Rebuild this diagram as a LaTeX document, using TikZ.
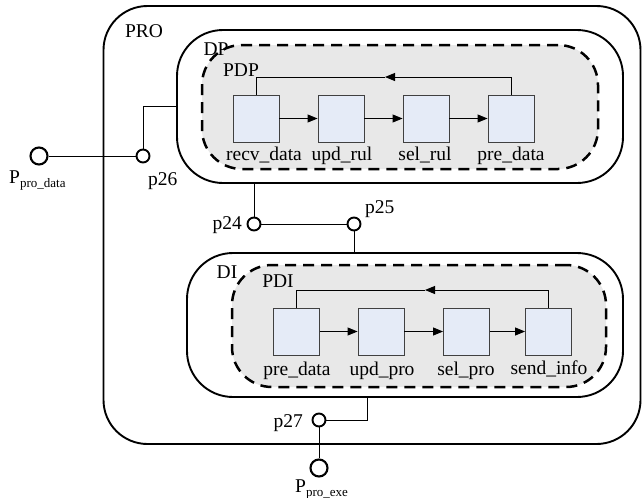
\documentclass[tikz,border=0pt]{standalone}
\usepackage{fontspec}
\setmainfont{Liberation Serif}
\usetikzlibrary{arrows.meta}
\definecolor{regiongray}{HTML}{E8E8E8}
\definecolor{boxblue}{HTML}{E5EBF7}
\definecolor{boxedge}{HTML}{404040}
\newcommand{\subtxt}[1]{\raisebox{-4pt}{\fontsize{13}{14}\selectfont #1}}
\begin{document}
\begin{tikzpicture}[x=1pt,y=-1pt,
  font=\fontsize{19.5}{21}\selectfont,
  outerbox/.style={draw, line width=1.9pt, rounded corners=44pt, inner sep=0pt},
  dashregion/.style={draw, line width=2.5pt, dash pattern=on 11pt off 7pt, fill=regiongray, rounded corners=40pt, inner sep=0pt},
  procbox/.style={draw=boxedge, fill=boxblue, line width=0.9pt, minimum width=46pt, minimum height=47pt, inner sep=0pt},
  lbl/.style={inner sep=0pt},
  port/.style={circle, draw, line width=1.9pt, fill=white, minimum size=13pt, inner sep=0pt},
  bigport/.style={circle, draw, line width=2.1pt, fill=white, minimum size=17pt, inner sep=0pt},
  conn/.style={line width=0.9pt},
  flow/.style={line width=0.9pt, -{Triangle[length=10pt,width=8pt]}},
]
\useasboundingbox (0,0) rectangle (643,498);

% containers
\node[outerbox, minimum width=537pt, minimum height=438pt] (pro) at (372,225) {};
\node[outerbox, rounded corners=46pt, minimum width=446pt, minimum height=153pt] (dp) at (400,106.5) {};
\node[dashregion, minimum width=396pt, minimum height=124pt] (pdp) at (400,107) {};
\node[outerbox, rounded corners=46pt, minimum width=436pt, minimum height=144pt] (di) at (405,325) {};
\node[dashregion, minimum width=374pt, minimum height=122pt] (pdi) at (419,326) {};

% container labels
\node[lbl] (tpro) at (144,31) {PRO};
\node[lbl] (tdp) at (216,49) {DP};
\node[lbl] (tpdp) at (241,70) {PDP};
\node[lbl] (tdi) at (227,272) {DI};
\node[lbl] (tpdi) at (278,281) {PDI};

% DP process boxes
\node[procbox] (dp1) at (256,118.5) {};
\node[procbox] (dp2) at (341,118.5) {};
\node[procbox] (dp3) at (426,118.5) {};
\node[procbox] (dp4) at (511,118.5) {};
\node[lbl, anchor=base] (ldp1) at (264,160) {recv\_data};
\node[lbl, anchor=base] (ldp2) at (342,160) {upd\_rul};
\node[lbl, anchor=base] (ldp3) at (425,160) {sel\_rul};
\node[lbl, anchor=base] (ldp4) at (511,160) {pre\_data};

% DI process boxes
\node[procbox] (di1) at (296.5,331.5) {};
\node[procbox] (di2) at (381,331.5) {};
\node[procbox] (di3) at (466.5,331.5) {};
\node[procbox] (di4) at (548.5,331.5) {};
\node[lbl, anchor=base] (ldi1) at (297,375) {pre\_data};
\node[lbl, anchor=base] (ldi2) at (382,375) {upd\_pro};
\node[lbl, anchor=base] (ldi3) at (466,375) {sel\_pro};
\node[lbl, anchor=base] (ldi4) at (549,374) {send\_info};

% DP flows
\draw[flow] (dp1) -- (dp2);
\draw[flow] (dp2) -- (dp3);
\draw[flow] (dp3) -- (dp4);
\coordinate (fbdp) at (385,77);
\draw[flow] (dp4.north) |- (fbdp);
\draw[conn] (fbdp) -| (dp1.north);

% DI flows
\draw[flow] (di1) -- (di2);
\draw[flow] (di2) -- (di3);
\draw[flow] (di3) -- (di4);
\coordinate (fbdi) at (425,290);
\draw[flow] (di4.north) |- (fbdi);
\draw[conn] (fbdi) -| (di1.north);

% ports
\node[bigport] (pdata) at (39,156) {};
\node[port] (p26) at (143,156) {};
\node[port] (p24) at (254,224) {};
\node[port] (p25) at (354,224) {};
\node[port] (p27) at (319,420) {};
\node[bigport] (pexe) at (319,468) {};

% connectors
\draw[conn] (pdata) -- (p26);
\draw[conn] (p26) |- (dp.west);
\draw[conn] (dp.south -| p24) -- (p24);
\draw[conn] (p24) -- (p25);
\draw[conn] (p25) -- (di.north -| p25);
\coordinate (diout) at (di.south -| 367,0);
\draw[conn] (p27) -| (diout);
\draw[conn] (p27) -- (pexe);

% port labels
\node[lbl, anchor=base east] (tp24) at (242,229) {p24};
\node[lbl, anchor=base west] (tp25) at (365,213) {p25};
\node[lbl, anchor=base west] (tp26) at (148,185) {p26};
\node[lbl, anchor=base east] (tp27) at (303,427) {p27};
\node[lbl, anchor=base west] (tpdata) at (9,183) {P\subtxt{pro\_data}};
\node[lbl, anchor=base west] (tpexe) at (295,492) {P\subtxt{pro\_exe}};
\end{tikzpicture}
\end{document}
